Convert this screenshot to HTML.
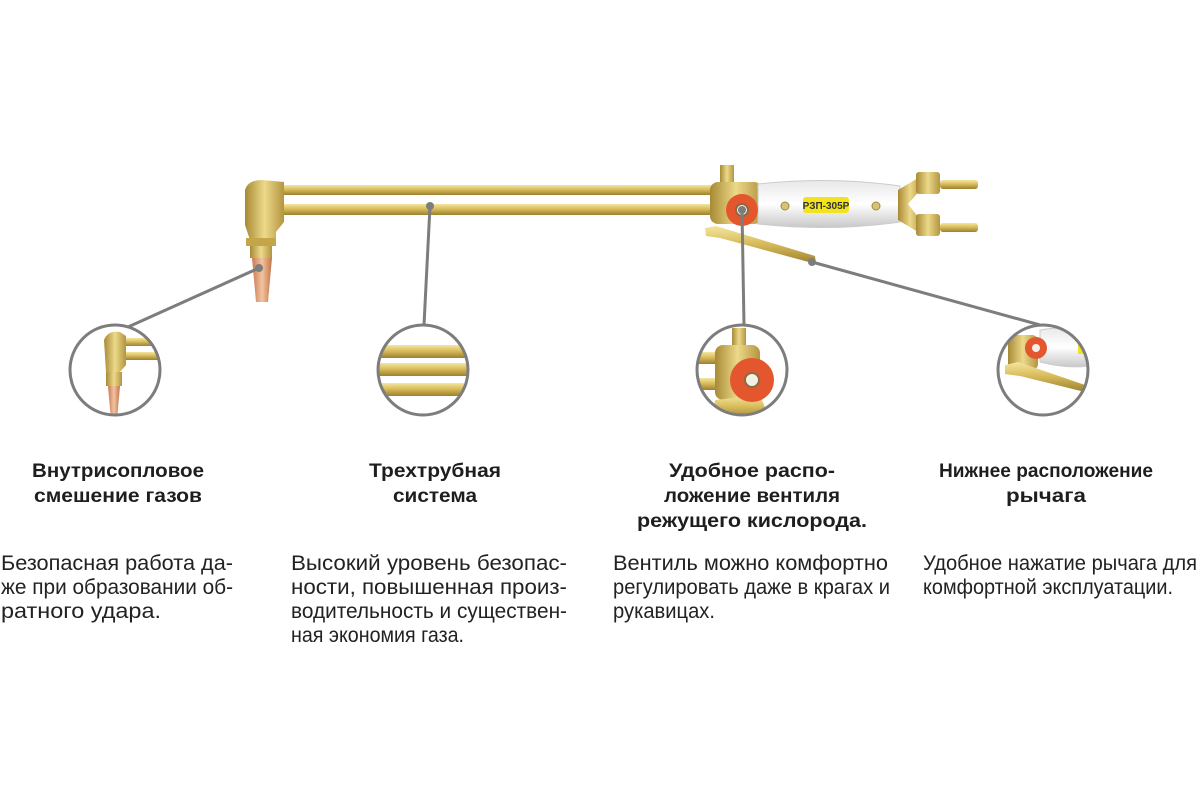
<!DOCTYPE html>
<html><head><meta charset="utf-8"><style>html,body{margin:0;padding:0;background:#fff}svg{display:block}</style></head>
<body>
<svg width="1200" height="800" viewBox="0 0 1200 800" xmlns="http://www.w3.org/2000/svg">
<defs>
<linearGradient id="br" x1="0" y1="0" x2="0" y2="1"><stop offset="0" stop-color="#f4e6a0"/><stop offset=".45" stop-color="#d9bd5c"/><stop offset="1" stop-color="#9c8030"/></linearGradient>
<linearGradient id="brh" x1="0" y1="0" x2="1" y2="0"><stop offset="0" stop-color="#a88a35"/><stop offset=".5" stop-color="#ecd98a"/><stop offset="1" stop-color="#b49540"/></linearGradient>
<linearGradient id="cu" x1="0" y1="0" x2="1" y2="0"><stop offset="0" stop-color="#c77a50"/><stop offset=".5" stop-color="#f3c3a0"/><stop offset="1" stop-color="#c27548"/></linearGradient>
<linearGradient id="hd" x1="0" y1="0" x2="0" y2="1"><stop offset="0" stop-color="#e8e8e8"/><stop offset=".5" stop-color="#ffffff"/><stop offset="1" stop-color="#c8c8c8"/></linearGradient>
<clipPath id="c1"><circle cx="115" cy="370" r="45"/></clipPath>
<clipPath id="c2"><circle cx="423" cy="370" r="45"/></clipPath>
<clipPath id="c3"><circle cx="742" cy="370" r="45"/></clipPath>
<clipPath id="c4"><circle cx="1043" cy="370" r="45"/></clipPath>
</defs>

<rect x="268" y="185" width="452" height="10" rx="4" fill="url(#br)"/>
<rect x="268" y="204" width="450" height="11" rx="4" fill="url(#br)"/>
<path d="M245 190 Q248 180 262 180 L284 182 L284 222 L276 232 L276 240 L250 240 L245 225 Z" fill="url(#brh)"/>
<rect x="246" y="238" width="30" height="8" fill="#c4a548"/>
<rect x="250" y="246" width="22" height="12" fill="url(#brh)"/>
<path d="M252 258 L272 258 L268 302 L256 302 Z" fill="url(#cu)"/>
<rect x="720" y="165" width="14" height="22" fill="url(#brh)"/>
<rect x="710" y="182" width="52" height="42" rx="8" fill="url(#brh)"/>
<path d="M758 184 Q830 176 900 186 L900 222 Q830 232 758 224 Z" fill="url(#hd)" stroke="#ccc"/>
<rect x="803" y="197" width="46" height="16" rx="3" fill="#f1e41f"/>
<text x="826" y="209" font-family="Liberation Sans,sans-serif" font-size="10" font-weight="bold" text-anchor="middle" fill="#333">РЗП-305Р</text>
<circle cx="785" cy="206" r="4" fill="#d8c27a" stroke="#a08a40"/>
<circle cx="876" cy="206" r="4" fill="#d8c27a" stroke="#a08a40"/>
<path d="M898 190 L918 178 L922 188 L908 204 L922 222 L918 232 L898 220 Z" fill="url(#brh)"/>
<rect x="916" y="172" width="24" height="22" rx="3" fill="url(#brh)"/>
<rect x="916" y="214" width="24" height="22" rx="3" fill="url(#brh)"/>
<rect x="940" y="180" width="38" height="9" rx="3" fill="url(#br)"/>
<rect x="940" y="223" width="38" height="9" rx="3" fill="url(#br)"/>
<path d="M705 228 L716 226 L815 256 L816 264 L720 238 L706 236 Z" fill="url(#br)"/>
<circle cx="742" cy="210" r="16" fill="#e4572e"/>
<circle cx="742" cy="210" r="6" fill="#f3f0e8" stroke="#8a6b40" stroke-width="2"/>

<g stroke="#7d7d7d" stroke-width="3" fill="none">
<line x1="259" y1="268" x2="128" y2="327"/>
<line x1="430" y1="206" x2="424" y2="325"/>
<line x1="742" y1="210" x2="744" y2="325"/>
<line x1="812" y1="262" x2="1040" y2="325"/>
</g>
<g fill="#7d7d7d"><circle cx="259" cy="268" r="4"/><circle cx="430" cy="206" r="4"/><circle cx="742" cy="210" r="4"/><circle cx="812" cy="262" r="4"/></g>

<g clip-path="url(#c1)">
<rect x="70" y="325" width="90" height="90" fill="#fff"/>
<rect x="120" y="338" width="45" height="8" fill="url(#br)"/>
<rect x="120" y="352" width="45" height="8" fill="url(#br)"/>
<path d="M104 340 Q108 330 120 332 L126 336 L126 365 L120 372 L106 372 Z" fill="url(#brh)"/>
<rect x="106" y="372" width="16" height="14" fill="url(#brh)"/>
<path d="M108 386 L120 386 L117 420 L111 420 Z" fill="url(#cu)"/>
</g>
<circle cx="115" cy="370" r="45" fill="none" stroke="#7d7d7d" stroke-width="3"/>
<g clip-path="url(#c2)">
<rect x="370" y="320" width="110" height="100" fill="#fff"/>
<rect x="370" y="345" width="110" height="13" fill="url(#br)"/>
<rect x="370" y="363" width="110" height="13" fill="url(#br)"/>
<rect x="370" y="383" width="110" height="13" fill="url(#br)"/>
</g>
<circle cx="423" cy="370" r="45" fill="none" stroke="#7d7d7d" stroke-width="3"/>
<g clip-path="url(#c3)">
<rect x="690" y="320" width="110" height="100" fill="#fff"/>
<rect x="690" y="352" width="40" height="12" fill="url(#br)"/>
<rect x="690" y="378" width="40" height="12" fill="url(#br)"/>
<rect x="732" y="328" width="14" height="20" fill="url(#brh)"/>
<rect x="715" y="345" width="45" height="55" rx="8" fill="url(#brh)"/>
<path d="M715 400 L760 395 L770 420 L712 420 Z" fill="url(#br)"/>
<circle cx="752" cy="380" r="22" fill="#e4572e"/>
<circle cx="752" cy="380" r="7" fill="#f3f0e8" stroke="#8a6b40" stroke-width="2"/>
</g>
<circle cx="742" cy="370" r="45" fill="none" stroke="#7d7d7d" stroke-width="3"/>
<g clip-path="url(#c4)">
<rect x="995" y="320" width="100" height="100" fill="#fff"/>
<path d="M1040 330 Q1070 325 1095 330 L1095 365 Q1070 370 1040 362 Z" fill="url(#hd)" stroke="#ccc"/>
<rect x="1078" y="336" width="12" height="18" fill="#f1e41f"/>
<rect x="1008" y="335" width="30" height="35" rx="6" fill="url(#brh)"/>
<circle cx="1036" cy="348" r="11" fill="#e4572e"/>
<circle cx="1036" cy="348" r="4" fill="#f3f0e8"/>
<path d="M1005 365 L1018 362 L1085 385 L1085 392 L1020 376 L1005 374 Z" fill="url(#br)"/>
</g>
<circle cx="1043" cy="370" r="45" fill="none" stroke="#7d7d7d" stroke-width="3"/>

<g font-family="Liberation Sans,sans-serif" font-size="19" font-weight="bold" fill="#1e1e1e" text-anchor="middle">
<text x="118" y="477" textLength="172" lengthAdjust="spacingAndGlyphs">Внутрисопловое</text>
<text x="118" y="502" textLength="168" lengthAdjust="spacingAndGlyphs">смешение газов</text>
<text x="435" y="477" textLength="132" lengthAdjust="spacingAndGlyphs">Трехтрубная</text>
<text x="435" y="502" textLength="84" lengthAdjust="spacingAndGlyphs">система</text>
<text x="752" y="477" textLength="166" lengthAdjust="spacingAndGlyphs">Удобное распо-</text>
<text x="752" y="502" textLength="176" lengthAdjust="spacingAndGlyphs">ложение вентиля</text>
<text x="752" y="527" textLength="230" lengthAdjust="spacingAndGlyphs">режущего кислорода.</text>
<text x="1046" y="477" textLength="214" lengthAdjust="spacingAndGlyphs">Нижнее расположение</text>
<text x="1046" y="502" textLength="80" lengthAdjust="spacingAndGlyphs">рычага</text>
</g>
<g font-family="Liberation Sans,sans-serif" font-size="21" fill="#222">
<text x="1" y="570" textLength="232" lengthAdjust="spacingAndGlyphs">Безопасная  работа  да-</text>
<text x="1" y="594" textLength="232" lengthAdjust="spacingAndGlyphs">же при образовании об-</text>
<text x="1" y="618" textLength="160" lengthAdjust="spacingAndGlyphs">ратного удара.</text>
<text x="291" y="570" textLength="276" lengthAdjust="spacingAndGlyphs">Высокий  уровень  безопас-</text>
<text x="291" y="594" textLength="276" lengthAdjust="spacingAndGlyphs">ности,  повышенная  произ-</text>
<text x="291" y="618" textLength="276" lengthAdjust="spacingAndGlyphs">водительность  и  существен-</text>
<text x="291" y="642" textLength="173" lengthAdjust="spacingAndGlyphs">ная экономия газа.</text>
<text x="613" y="570" textLength="275" lengthAdjust="spacingAndGlyphs">Вентиль  можно  комфортно</text>
<text x="613" y="594" textLength="277" lengthAdjust="spacingAndGlyphs">регулировать даже в крагах и</text>
<text x="613" y="618" textLength="102" lengthAdjust="spacingAndGlyphs">рукавицах.</text>
<text x="923" y="570" textLength="274" lengthAdjust="spacingAndGlyphs">Удобное нажатие рычага для</text>
<text x="923" y="594" textLength="250" lengthAdjust="spacingAndGlyphs">комфортной эксплуатации.</text>
</g>
</svg>
</body></html>
